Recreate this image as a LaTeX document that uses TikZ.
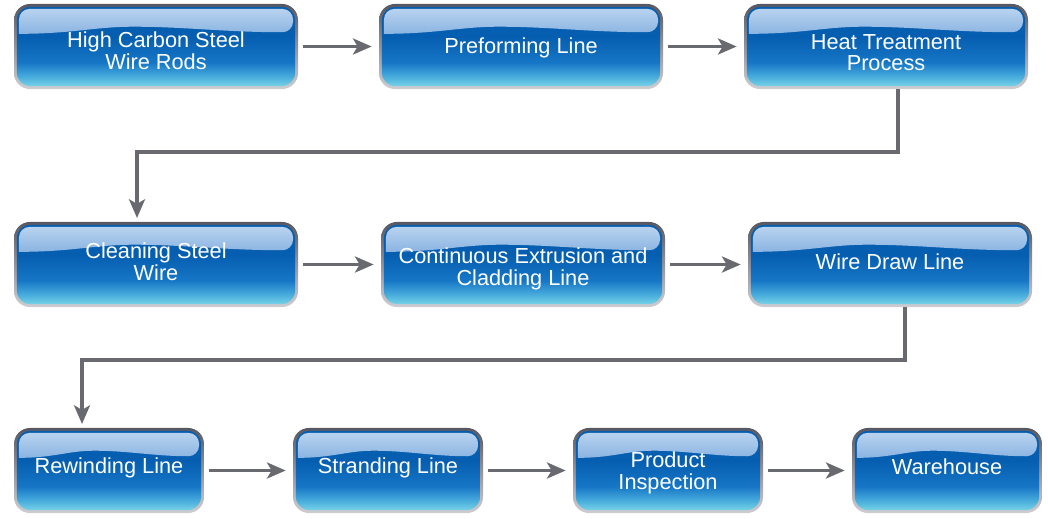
\documentclass[tikz,border=0pt]{standalone}
\usepackage{fontspec}
\setmainfont{Liberation Sans}
\usetikzlibrary{arrows.meta,calc,backgrounds}
\definecolor{deepb}{RGB}{6,94,176}
\definecolor{midb}{RGB}{22,118,198}
\definecolor{lowb}{RGB}{72,172,220}
\definecolor{cyanb}{RGB}{118,210,230}
\definecolor{glossT}{RGB}{188,213,240}
\definecolor{glossM}{RGB}{112,162,222}
\definecolor{glossB}{RGB}{42,116,196}
\definecolor{bdTop}{RGB}{88,88,98}
\definecolor{bdMid}{RGB}{140,140,150}
\definecolor{bdBot}{RGB}{205,205,210}
\definecolor{arrgray}{RGB}{105,105,112}
\pgfdeclareverticalshading{boxsh}{100bp}{color(0bp)=(cyanb); color(25bp)=(cyanb); color(31bp)=(lowb); color(40bp)=(midb); color(56bp)=(deepb); color(100bp)=(deepb)}
% text block whose last baseline sits #1 above the node centre
\newcommand\tx[2]{\raisebox{#1}[0pt][0pt]{\begin{tabular}[b]{@{}c@{}}#2\end{tabular}}}
\tikzset{
  proc/.style={draw=none, rounded corners=10pt, outer sep=2.2pt,
    shade, shading=boxsh, text=white, inner sep=0pt,
    minimum height=59.4pt,
    font=\fontsize{16.3}{16.2}\selectfont,
    path picture={
      \shade[top color=glossT, middle color=glossM, bottom color=glossB]
        let \p1=(path picture bounding box.north west),
            \p2=(path picture bounding box.south east),
            \n1={\x2-\x1}, \n2={\y1-\y2} in
        (\x1+1.5pt,\y1-0.34*\n2) [rounded corners=8pt]
        -- (\x1+1.5pt,\y1-1.5pt) -- (\x2-1.5pt,\y1-1.5pt)
        -- (\x2-1.5pt,\y1-0.32*\n2) [sharp corners]
        .. controls (\x1+0.75*\n1,\y1-0.32*\n2) and (\x1+0.6*\n1,\y1-0.25*\n2) .. (\x1+0.42*\n1,\y1-0.25*\n2)
        .. controls (\x1+0.28*\n1,\y1-0.25*\n2) and (\x1+0.2*\n1,\y1-0.34*\n2) .. (\x1+1.5pt,\y1-0.34*\n2)
        -- cycle;
    }},
  wide/.style={proc, minimum width=208.6pt},
  narrow/.style={proc, minimum width=138.1pt},
  rim/.style={top color=bdTop, middle color=bdMid, bottom color=bdBot, rounded corners=12pt},
  conn/.style={draw=arrgray, line width=2.5pt,
    -{Stealth[length=14pt,width=12pt,inset=3.5pt]}},
  hconn/.style={conn, shorten <=3.5pt, shorten >=5.5pt}
}
\begin{document}
\begin{tikzpicture}[x=0.75pt,y=-0.75pt]
\useasboundingbox (0,0) rectangle (1048,518);
\node[wide] (b1) at (156,46.5) {\tx{-17.1pt}{High Carbon Steel\\Wire Rods}};
\node[wide] (b2) at (521,46.5) {\tx{-5.1pt}{Preforming Line}};
\node[wide] (b3) at (886,46.5) {\tx{-18.2pt}{Heat Treatment\\Process}};
\node[wide] (b4) at (156,264.5) {\tx{-12.2pt}{Cleaning Steel\\Wire}};
\node[wide] (b5) at (523,264.5) {\tx{-15.9pt}{Continuous Extrusion and\\Cladding Line}};
\node[wide] (b6) at (890,264.5) {\tx{-4.1pt}{Wire Draw Line}};
\node[narrow] (b7) at (109,470.5) {\tx{-2.4pt}{Rewinding Line}};
\node[narrow] (b8) at (388,470.5) {\tx{-2.4pt}{Stranding Line}};
\node[narrow] (b9) at (668,470.5) {\tx{-14.6pt}{Product\\Inspection}};
\node[narrow] (b10) at (947,470.5) {\tx{-3.2pt}{Warehouse}};
\begin{scope}[on background layer]
\foreach \n in {b1,b2,b3,b4,b5,b6,b7,b8,b9,b10}
  \shade[rim] (\n.north west) rectangle (\n.south east);
\end{scope}
\coordinate (c1) at (898,152);
\coordinate (c2) at (137,152);
\coordinate (c3) at (905,360);
\coordinate (c4) at (82,360);
\draw[hconn] (b1) -- (b2);
\draw[hconn] (b2) -- (b3);
\draw[hconn] (b4) -- (b5);
\draw[hconn] (b5) -- (b6);
\draw[hconn] (b7) -- (b8);
\draw[hconn] (b8) -- (b9);
\draw[hconn] (b9) -- (b10);
\draw[conn, shorten >=3pt] (b3.south -| c1) -- (c1) -- (c2) -- (c2 |- b4.north);
\draw[conn, shorten >=3pt] (b6.south -| c3) -- (c3) -- (c4) -- (c4 |- b7.north);
\end{tikzpicture}
\end{document}
